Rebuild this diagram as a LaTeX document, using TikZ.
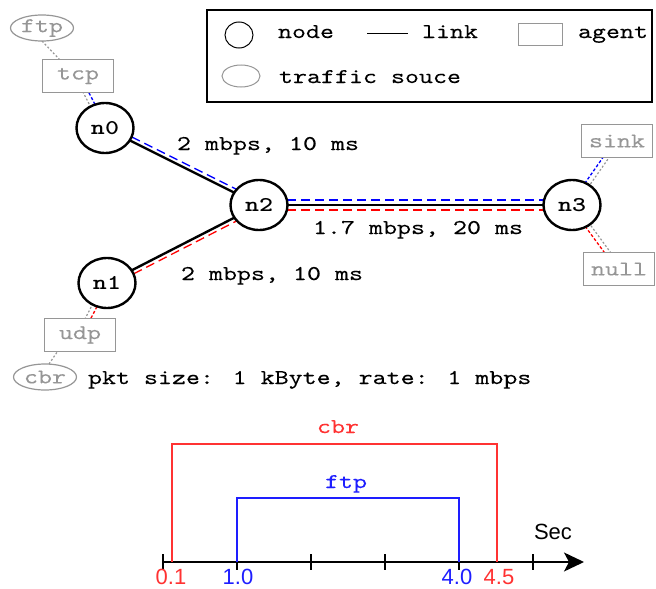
\documentclass[tikz,border=0pt]{standalone}
\usepackage{fontspec}
\usetikzlibrary{shapes.geometric,calc,arrows.meta,backgrounds}
\newfontfamily\mono{lmmono10-regular.otf}[FakeStretch=1.27,BoldFont=lmmonolt10-bold.otf,UprightFeatures={FakeBold=0.12}]
\newfontfamily\lsans{Liberation Sans}
\definecolor{agentgray}{RGB}{150,150,150}
\definecolor{tlred}{RGB}{255,50,50}
\definecolor{tlblue}{RGB}{30,30,255}
\begin{document}
\begin{tikzpicture}[x=1pt,y=-1pt,
  every node/.style={inner sep=0pt,outer sep=0pt},
  font=\mono\fontsize{21}{24}\selectfont,
  netnode/.style={ellipse,draw,line width=2.4pt,fill=white,minimum width=57pt,minimum height=50pt,font=\mono\bfseries\fontsize{21}{24}\selectfont},
  agentbox/.style={rectangle,draw=agentgray,line width=1.2pt,fill=white,text=agentgray,minimum width=71pt,minimum height=33pt},
  srcnode/.style={ellipse,draw=agentgray,line width=1.2pt,fill=white,text=agentgray,minimum width=63pt,minimum height=26pt},
  txt/.style={anchor=base west},
  link/.style={line width=2.4pt},
  flowb/.style={blue,line width=1.3pt,dash pattern=on 9pt off 5pt},
  flowr/.style={red,line width=1.3pt,dash pattern=on 9pt off 5pt},
  shortb/.style={blue,line width=1.3pt,dash pattern=on 3pt off 2pt},
  shortr/.style={red,line width=1.3pt,dash pattern=on 3pt off 2pt},
  attach/.style={agentgray,line width=1.2pt,dash pattern=on 2pt off 2pt},
  axisline/.style={line width=1.5pt},
  tlr/.style={tlred,line width=1.5pt},
  tlb/.style={tlblue,line width=1.5pt},
  numlab/.style={anchor=base,font=\lsans\fontsize{22}{24}\selectfont}
]
\useasboundingbox (0,0) rectangle (656,589);

% ---------- legend ----------
\node[draw,line width=1.5pt,minimum width=445pt,minimum height=92pt,anchor=north west] (legend) at (207,10) {};
\node[ellipse,draw,line width=1pt,minimum width=28pt,minimum height=26pt] (lnode) at (239,35) {};
\node[txt] (lnodet) at (278,38) {node};
\coordinate (llinea) at (367,33);
\coordinate (llineb) at (408,33);
\draw[line width=1pt] (llinea) -- (llineb);
\node[txt] (llinkt) at (422,38) {link};
\node[rectangle,draw=agentgray,line width=1pt,minimum width=44pt,minimum height=22pt] (lagent) at (540,34) {};
\node[txt] (lagentt) at (578,38) {agent};
\node[ellipse,draw=agentgray,line width=1pt,minimum width=38pt,minimum height=22pt] (lsrc) at (241,76) {};
\node[txt] (lsrct) at (279,83) {traffic souce};

% ---------- network nodes ----------
\node[netnode] (n0) at (105,128) {n0};
\node[netnode] (n1) at (107,283) {n1};
\node[netnode] (n2) at (259,205) {n2};
\node[netnode] (n3) at (572,205) {n3};

\node[agentbox] (tcp) at (78,76) {tcp};
\node[srcnode] (ftp) at (42,28) {ftp};
\node[agentbox] (udp) at (80,335) {udp};
\node[srcnode] (cbr) at (45,377) {cbr};
\node[agentbox] (sink) at (617,141) {sink};
\node[agentbox] (null) at (619,269) {null};

% ---------- links ----------
\draw[link] (n0) -- (n2);
\draw[link] (n1) -- (n2);
\draw[link] (n2) -- (n3);

\begin{scope}[on background layer]
  % ftp flow (blue)
  \draw[shortb] ($(tcp)!2pt!90:(n0)$) -- ($(n0)!2pt!-90:(tcp)$);
  \draw[flowb] ($(n0)!4pt!90:(n2)$) -- ($(n2)!4pt!-90:(n0)$);
  \draw[flowb] ($(n2)!5pt!90:(n3)$) -- ($(n3)!5pt!-90:(n2)$);
  \draw[shortb] ($(n3)!2pt!90:(sink)$) -- ($(sink)!2pt!-90:(n3)$);
  % cbr flow (red)
  \draw[shortr] ($(udp)!2pt!-90:(n1)$) -- ($(n1)!2pt!90:(udp)$);
  \draw[flowr] ($(n1)!4pt!-90:(n2)$) -- ($(n2)!4pt!90:(n1)$);
  \draw[flowr] ($(n2)!5pt!-90:(n3)$) -- ($(n3)!5pt!90:(n2)$);
  \draw[shortr] ($(n3)!2pt!-90:(null)$) -- ($(null)!2pt!90:(n3)$);
  % agent attachments
  \draw[attach] ($(tcp)!3pt!-90:(n0)$) -- ($(n0)!3pt!90:(tcp)$);
  \draw[attach] ($(udp)!3pt!90:(n1)$) -- ($(n1)!3pt!-90:(udp)$);
  \draw[attach] ($(n3)!3pt!-90:(sink)$) -- ($(sink)!3pt!90:(n3)$);
  \draw[attach] ($(n3)!3pt!90:(null)$) -- ($(null)!3pt!-90:(n3)$);
  \draw[attach] (ftp.south) -- ($(tcp.north west)+(17,0)$);
  \draw[attach] ($(cbr.north)+(4,0)$) -- ($(udp.south west)+(13,0)$);
\end{scope}

% ---------- link labels ----------
\node[txt] (l02) at (177,150) {2 mbps, 10 ms};
\node[txt] (l23) at (313,234) {1.7 mbps, 20 ms};
\node[txt] (l12) at (181,280) {2 mbps, 10 ms};
\node[txt] (lpkt) at (88,384) {pkt size: 1 kByte, rate: 1 mbps};

% ---------- timeline ----------
\coordinate (ax0) at (163,562);
\coordinate (ax1) at (584,562);
\draw[axisline,-{Stealth[length=20pt,width=19pt,inset=5pt]}] (ax0) -- (ax1);
\foreach \i in {0,...,5}{
  \coordinate (t\i) at (163+74*\i,562);
  \draw[axisline] ($(t\i)+(0,-8)$) -- ($(t\i)+(0,8)$);
}
\coordinate (cbrA) at (172,562);
\coordinate (cbrB) at (497,562);
\coordinate (ftpA) at (237,562);
\coordinate (ftpB) at (459,562);
\draw[tlr] (cbrA) -- ++(0,-118) -| (cbrB);
\draw[tlb] (ftpA) -- ++(0,-64) -| (ftpB);
\node[anchor=base,text=tlred] (tcbr) at (338,433) {cbr};
\node[anchor=base,text=tlblue] (tftp) at (346,488) {ftp};
\node[numlab] (sec) at (553,539) {Sec};
\node[numlab,text=tlred] (v01) at (171,584) {0.1};
\node[numlab,text=tlblue] (v10) at (238,584) {1.0};
\node[numlab,text=tlblue] (v40) at (457,584) {4.0};
\node[numlab,text=tlred] (v45) at (499,584) {4.5};
\end{tikzpicture}
\end{document}
